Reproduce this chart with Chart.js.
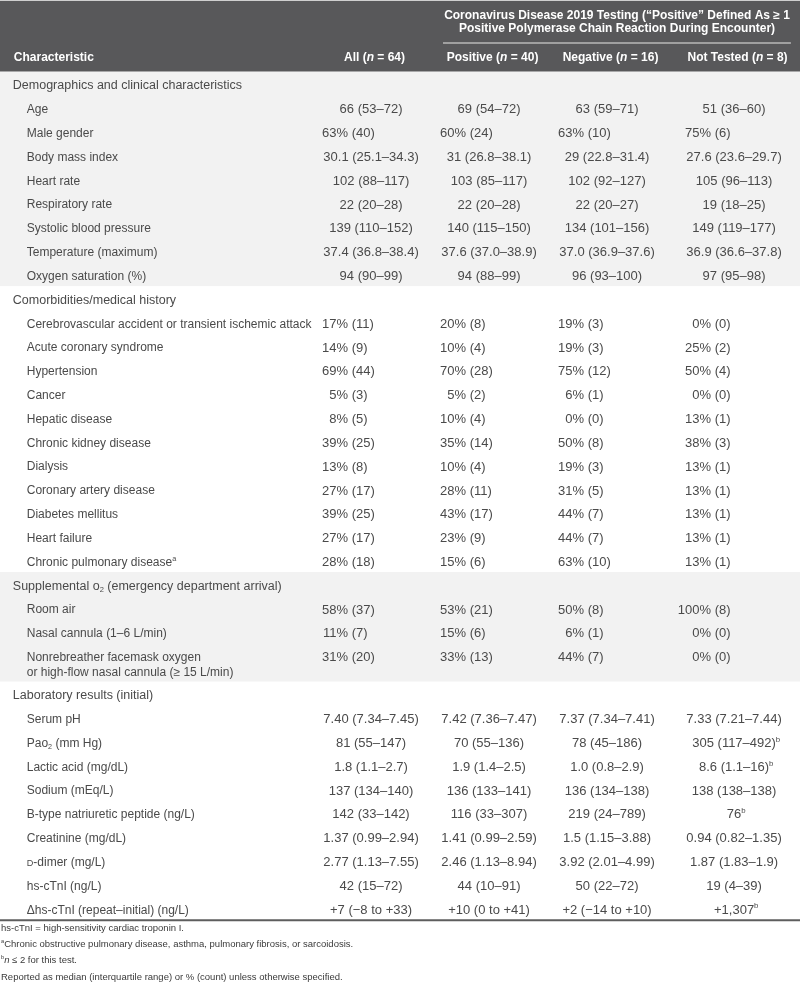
<!DOCTYPE html>
<html>
<head>
<meta charset="utf-8">
<script src="https://cdn.jsdelivr.net/npm/chart.js@4.4.1/dist/chart.umd.min.js"></script>
<style>
  html, body { margin: 0; padding: 0; background: #fff; }
</style>
</head>
<body>
<canvas id="tableChart" width="800" height="985"></canvas>
<script>
// ---- table content ----
const groupTitle = ['Coronavirus Disease 2019 Testing (“Positive” Defined As ≥ 1', 'Positive Polymerase Chain Reaction During Encounter)'];
const firstHeader = 'Characteristic';
const columnHeaders = ['All (*n* = 64)', 'Positive (*n* = 40)', 'Negative (*n* = 16)', 'Not Tested (*n* = 8)'];

const sectionTitles = [
  'Demographics and clinical characteristics',
  'Comorbidities/medical history',
  'Supplemental o_{2} (emergency department arrival)',
  'Laboratory results (initial)'
];
const sectionSizes = [8, 11, 3, 9];

const characteristics = [
  'Age', 'Male gender', 'Body mass index', 'Heart rate', 'Respiratory rate',
  'Systolic blood pressure', 'Temperature (maximum)', 'Oxygen saturation (%)',
  'Cerebrovascular accident or transient ischemic attack', 'Acute coronary syndrome',
  'Hypertension', 'Cancer', 'Hepatic disease', 'Chronic kidney disease', 'Dialysis',
  'Coronary artery disease', 'Diabetes mellitus', 'Heart failure', 'Chronic pulmonary disease^{a}',
  'Room air', 'Nasal cannula (1–6 L/min)',
  'Nonrebreather facemask oxygen\nor high-flow nasal cannula (≥ 15 L/min)',
  'Serum pH', 'Pao_{2} (mm Hg)', 'Lactic acid (mg/dL)', 'Sodium (mEq/L)',
  'B-type natriuretic peptide (ng/L)', 'Creatinine (mg/dL)', '~{D}-dimer (mg/L)',
  'hs-cTnI (ng/L)', 'Δhs-cTnI (repeat–initial) (ng/L)'
];

const allValues = [
  '66 (53–72)', '63% (40)', '30.1 (25.1–34.3)', '102 (88–117)', '22 (20–28)',
  '139 (110–152)', '37.4 (36.8–38.4)', '94 (90–99)',
  '17% (11)', '14% (9)', '69% (44)', '5% (3)', '8% (5)', '39% (25)', '13% (8)',
  '27% (17)', '39% (25)', '27% (17)', '28% (18)',
  '58% (37)', '11% (7)', '31% (20)',
  '7.40 (7.34–7.45)', '81 (55–147)', '1.8 (1.1–2.7)', '137 (134–140)', '142 (33–142)',
  '1.37 (0.99–2.94)', '2.77 (1.13–7.55)', '42 (15–72)', '+7 (−8 to +33)'
];
const positiveValues = [
  '69 (54–72)', '60% (24)', '31 (26.8–38.1)', '103 (85–117)', '22 (20–28)',
  '140 (115–150)', '37.6 (37.0–38.9)', '94 (88–99)',
  '20% (8)', '10% (4)', '70% (28)', '5% (2)', '10% (4)', '35% (14)', '10% (4)',
  '28% (11)', '43% (17)', '23% (9)', '15% (6)',
  '53% (21)', '15% (6)', '33% (13)',
  '7.42 (7.36–7.47)', '70 (55–136)', '1.9 (1.4–2.5)', '136 (133–141)', '116 (33–307)',
  '1.41 (0.99–2.59)', '2.46 (1.13–8.94)', '44 (10–91)', '+10 (0 to +41)'
];
const negativeValues = [
  '63 (59–71)', '63% (10)', '29 (22.8–31.4)', '102 (92–127)', '22 (20–27)',
  '134 (101–156)', '37.0 (36.9–37.6)', '96 (93–100)',
  '19% (3)', '19% (3)', '75% (12)', '6% (1)', '0% (0)', '50% (8)', '19% (3)',
  '31% (5)', '44% (7)', '44% (7)', '63% (10)',
  '50% (8)', '6% (1)', '44% (7)',
  '7.37 (7.34–7.41)', '78 (45–186)', '1.0 (0.8–2.9)', '136 (134–138)', '219 (24–789)',
  '1.5 (1.15–3.88)', '3.92 (2.01–4.99)', '50 (22–72)', '+2 (−14 to +10)'
];
const notTestedValues = [
  '51 (36–60)', '75% (6)', '27.6 (23.6–29.7)', '105 (96–113)', '19 (18–25)',
  '149 (119–177)', '36.9 (36.6–37.8)', '97 (95–98)',
  '0% (0)', '25% (2)', '50% (4)', '0% (0)', '13% (1)', '38% (3)', '13% (1)',
  '13% (1)', '13% (1)', '13% (1)', '13% (1)',
  '100% (8)', '0% (0)', '0% (0)',
  '7.33 (7.21–7.44)', '305 (117–492)^{b}', '8.6 (1.1–16)^{b}', '138 (138–138)', '76^{b}',
  '0.94 (0.82–1.35)', '1.87 (1.83–1.9)', '19 (4–39)', '+1,307^{b}'
];

const footnotes = [
  'hs-cTnI = high-sensitivity cardiac troponin I.',
  '^{a}Chronic obstructive pulmonary disease, asthma, pulmonary fibrosis, or sarcoidosis.',
  '^{b}*n* ≤ 2 for this test.',
  'Reported as median (interquartile range) or % (count) unless otherwise specified.'
];

// ---- layout / style ----
const FONT = '"Liberation Sans", Arial, Helvetica, sans-serif';
const TEXT = '#4a4a4a';
const HEADER_BG = '#58585a';
const BAND_BG = '#f2f2f2';
const X_MIN = -3.066, X_MAX = 3.545;     // column index axis
const Y_MIN = -3.61, Y_MAX = 37.74;      // row index axis
const SECTION_X = -2.96, LABEL_X = -2.845;
const COL_NUDGE = [0, -3, -6, 0];
const PCT_EDGE = -23;
const BAND_EDGE = -0.6;
const TALL_ROW = 1.6, LINE_GAP = 0.65;

// row positions from the row order
const sectionPos = [];
const rowPos = [];
let pos = 0, k = 0;
sectionTitles.forEach((t, s) => {
  sectionPos.push(pos);
  pos += 1;
  for (let i = 0; i < sectionSizes[s]; i++, k++) {
    rowPos.push(pos);
    pos += characteristics[k].includes('\n') ? TALL_ROW : 1;
  }
});
const lastRow = rowPos[rowPos.length - 1];
const tableEnd = lastRow + 0.42;

// ---- rich text helpers: ^{sup} _{sub} *italic* ~{smallcap} ----
function parseRich(str) {
  const out = [];
  const re = /\^\{([^}]*)\}|_\{([^}]*)\}|\*([^*]*)\*|~\{([^}]*)\}/g;
  let last = 0, m;
  while ((m = re.exec(str))) {
    if (m.index > last) out.push({ t: str.slice(last, m.index) });
    if (m[1] !== undefined) out.push({ t: m[1], sup: true });
    else if (m[2] !== undefined) out.push({ t: m[2], sub: true });
    else if (m[3] !== undefined) out.push({ t: m[3], it: true });
    else out.push({ t: m[4], sc: true });
    last = re.lastIndex;
  }
  if (last < str.length) out.push({ t: str.slice(last) });
  return out;
}
function segFont(seg, size, weight) {
  let s = size;
  if (seg.sup || seg.sub) s = size * 0.6;
  if (seg.sc) s = size * 0.76;
  return (seg.it ? 'italic ' : '') + weight + ' ' + s.toFixed(2) + 'px ' + FONT;
}
function drawRich(ctx, str, x, y, o) {
  const size = o.size, weight = o.weight || 'normal';
  const segs = parseRich(str);
  let w = 0;
  segs.forEach(sg => {
    ctx.font = segFont(sg, size, weight);
    sg.w = ctx.measureText(sg.t).width;
    if (!(o.mainOnly && sg.sup)) w += sg.w;
  });
  let cx = x;
  if (o.align === 'center') cx = x - w / 2;
  else if (o.align === 'right') cx = x - w;
  ctx.fillStyle = o.color || TEXT;
  ctx.textBaseline = 'middle';
  ctx.textAlign = 'left';
  segs.forEach(sg => {
    ctx.font = segFont(sg, size, weight);
    let dy = 0;
    if (sg.sup) dy = -size * 0.3;
    if (sg.sub) dy = size * 0.3;
    if (sg.sc) dy = size * 0.08;
    ctx.fillText(sg.t, cx, y + dy);
    cx += sg.w;
  });
}

const valueColumns = [allValues, positiveValues, negativeValues, notTestedValues];

const datasets = [
  { kind: 'section', texts: sectionTitles, data: sectionPos.map(p => ({ x: SECTION_X, y: p })) },
  { kind: 'label', texts: characteristics, data: rowPos.map(p => ({ x: LABEL_X, y: p })) }
].concat(valueColumns.map((vals, c) => ({
  kind: 'value', col: c, texts: vals, data: rowPos.map(p => ({ x: c, y: p }))
})));
datasets.forEach(d => { d.pointRadius = 0; d.pointHoverRadius = 0; });

const tablePlugin = {
  id: 'tablePlugin',
  beforeDatasetsDraw(chart) {
    const { ctx, width } = chart;
    const { x, y } = chart.scales;
    ctx.save();
    // header band
    ctx.fillStyle = '#cfcfcf';
    ctx.fillRect(0, 0, width, 1);
    ctx.fillStyle = HEADER_BG;
    const hb = y.getPixelForValue(sectionPos[0] + BAND_EDGE);
    ctx.fillRect(0, 1, width, hb - 1);
    // alternating section bands
    sectionPos.forEach((p, s) => {
      if (s % 2) return;
      const top = y.getPixelForValue(p + BAND_EDGE);
      const end = s + 1 < sectionPos.length ? sectionPos[s + 1] + BAND_EDGE : tableEnd;
      ctx.fillStyle = BAND_BG;
      ctx.fillRect(0, top, width, y.getPixelForValue(end) - top);
    });
    // rule under the group title
    ctx.strokeStyle = '#b9b9b9';
    ctx.lineWidth = 1.5;
    ctx.beginPath();
    ctx.moveTo(x.getPixelForValue(0.595), y.getPixelForValue(-1.81));
    ctx.lineTo(x.getPixelForValue(3.47), y.getPixelForValue(-1.81));
    ctx.stroke();
    // bottom rule
    ctx.strokeStyle = '#5e5e5e';
    ctx.lineWidth = 2;
    ctx.beginPath();
    ctx.moveTo(0, y.getPixelForValue(tableEnd));
    ctx.lineTo(width, y.getPixelForValue(tableEnd));
    ctx.stroke();
    ctx.restore();
  },
  afterDatasetsDraw(chart) {
    const { ctx } = chart;
    const { x, y } = chart.scales;
    const rowPx = Math.abs(y.getPixelForValue(1) - y.getPixelForValue(0));
    ctx.save();
    // header texts
    const hx = x.getPixelForValue(2.033);
    drawRich(ctx, groupTitle[0], hx, y.getPixelForValue(-2.94), { size: 12, weight: 'bold', color: '#fff', align: 'center' });
    drawRich(ctx, groupTitle[1], hx, y.getPixelForValue(-2.39), { size: 12, weight: 'bold', color: '#fff', align: 'center' });
    const hy = y.getPixelForValue(-1.2);
    drawRich(ctx, firstHeader, x.getPixelForValue(SECTION_X) + 1, hy, { size: 12, weight: 'bold', color: '#fff', align: 'left' });
    columnHeaders.forEach((h, c) => {
      drawRich(ctx, h, x.getPixelForValue(c) + COL_NUDGE[c] + 3.5, hy, { size: 12, weight: 'bold', color: '#fff', align: 'center' });
    });
    // body cells
    chart.data.datasets.forEach((ds, i) => {
      const meta = chart.getDatasetMeta(i);
      meta.data.forEach((el, j) => {
        const txt = ds.texts[j];
        if (ds.kind === 'section') {
          drawRich(ctx, txt, el.x, el.y, { size: 12.5, align: 'left' });
        } else if (ds.kind === 'label') {
          txt.split('\n').forEach((line, li) => {
            drawRich(ctx, line, el.x, el.y + li * LINE_GAP * rowPx, { size: 12, align: 'left' });
          });
        } else {
          const cx = el.x + COL_NUDGE[ds.col];
          const m = txt.match(/^\d+%/);
          if (m) {
            ctx.font = segFont({}, 13, 'normal');
            const w = ctx.measureText(m[0]).width;
            drawRich(ctx, txt, cx + PCT_EDGE - w, el.y, { size: 13, align: 'left' });
          } else {
            drawRich(ctx, txt, cx, el.y, { size: 13, align: 'center', mainOnly: true });
          }
        }
      });
    });
    // footnotes
    footnotes.forEach((f, i) => {
      drawRich(ctx, f, x.getPixelForValue(X_MIN) + 1, y.getPixelForValue(lastRow + 0.76 + i * 0.68), { size: 9.5, align: 'left', color: '#3a3a3a' });
    });
    ctx.restore();
  }
};

new Chart(document.getElementById('tableChart').getContext('2d'), {
  type: 'scatter',
  data: { datasets: datasets },
  options: {
    responsive: false,
    animation: false,
    devicePixelRatio: 1,
    layout: { padding: 0 },
    events: [],
    plugins: { legend: { display: false }, tooltip: { enabled: false } },
    scales: {
      x: { type: 'linear', display: false, min: X_MIN, max: X_MAX },
      y: { type: 'linear', display: false, reverse: true, min: Y_MIN, max: Y_MAX }
    }
  },
  plugins: [tablePlugin]
});
</script>
</body>
</html>
